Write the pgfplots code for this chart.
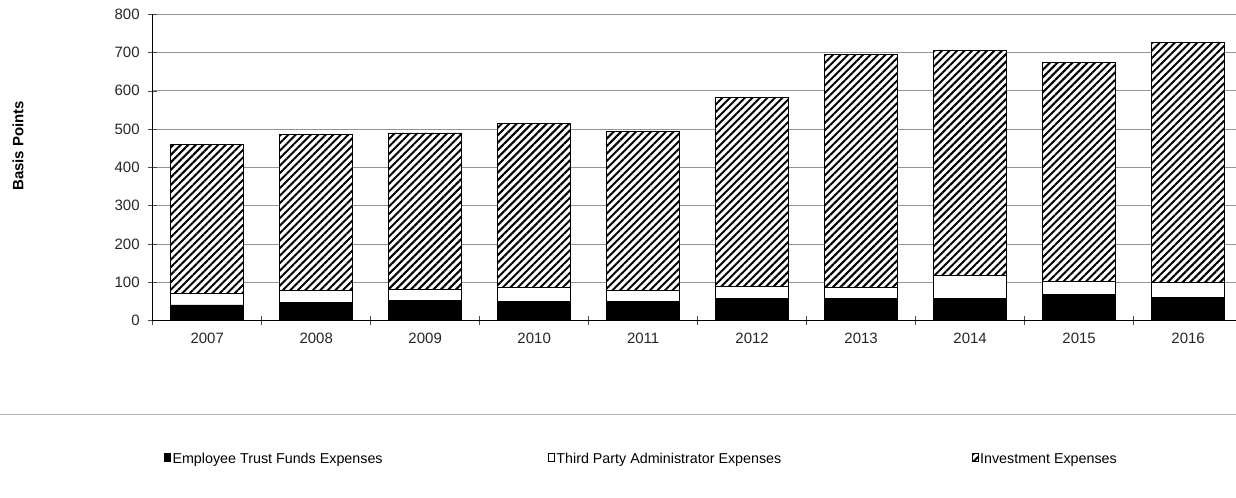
\documentclass[border=0pt]{standalone}
\usepackage{fontspec}
\setmainfont{Liberation Sans}
\usepackage{pgfplots}
\pgfplotsset{compat=1.18}
\usetikzlibrary{patterns.meta}
\pgfplotsset{/pgfplots/area legend/.style={/pgfplots/legend image code/.code={\draw[##1,line width=0.9bp] (0bp,-4.5bp) rectangle (9bp,4.5bp);}}}
\begin{document}
\begin{tikzpicture}
\begin{axis}[
  at={(152.7bp,177.3bp)}, anchor=south west,
  scale only axis, width=1083.3bp, height=306.5bp,
  ybar stacked, bar width=0.67,
  xmin=0.5, xmax=10.439, ymin=0, ymax=800,
  axis x line*=bottom, axis y line*=left,
  axis line style={line width=1bp, black},
  xtick={1,2,3,4,5,6,7,8,9,10},
  xticklabels={2007,2008,2009,2010,2011,2012,2013,2014,2015,2016},
  minor xtick={0.5,1.5,2.5,3.5,4.5,5.5,6.5,7.5,8.5,9.5},
  major x tick style={draw=none},
  minor x tick style={black!70, line width=0.6bp},
  minor tick length=9bp,
  ytick={0,100,...,800},
  major y tick style={black!70, line width=0.6bp},
  major tick length=9bp,
  tick align=center,
  ymajorgrids, grid style={draw=black!42, line width=0.8bp},
  /pgf/number format/assume math mode=true,
  tick label style={font=\fontsize{15bp}{18bp}\selectfont, text=black!85},
  yticklabel style={anchor=east, xshift=-5bp},
  xticklabel style={yshift=-4bp},
  ylabel={Basis Points},
  ylabel style={at={(axis description cs:-0.1243,0.571)}, anchor=center, font=\bfseries\fontsize{15bp}{18bp}\selectfont},
  legend columns=3,
  legend style={draw=none, fill=none, at={(axis description cs:0.0105,-0.453)}, anchor=west,
    font=\fontsize{14.3bp}{17bp}\selectfont, inner sep=0pt,
    nodes={inner sep=1.5bp},
    /tikz/column 2/.style={column sep=164bp},
    /tikz/column 4/.style={column sep=189bp}},
]
\addplot[fill=black, draw=black, line width=0.8bp] coordinates {
(1,41) (2,48) (3,52) (4,50) (5,51) (6,57) (7,59) (8,59) (9,69) (10,60)};
\addlegendentry{Employee Trust Funds Expenses}
\addplot[fill=white, draw=black, line width=0.8bp] coordinates {
(1,31) (2,31) (3,30) (4,37) (5,28) (6,32) (7,27) (8,58) (9,34) (10,39)};
\addlegendentry{Third Party Administrator Expenses}
\addplot[fill=white, draw=black, line width=0.8bp, postaction={pattern={Lines[angle=45,distance=5.3bp,line width=2bp]}}] coordinates {
(1,387) (2,407) (3,408) (4,429) (5,415) (6,494) (7,609) (8,589) (9,571) (10,628)};
\addlegendentry{Investment Expenses}
\end{axis}
\draw[black!30, line width=1bp] (0bp,83.7bp) -- (1236bp,83.7bp);
\pgfresetboundingbox
\path[use as bounding box] (0bp,0bp) rectangle (1236bp,498bp);
\end{tikzpicture}
\end{document}
